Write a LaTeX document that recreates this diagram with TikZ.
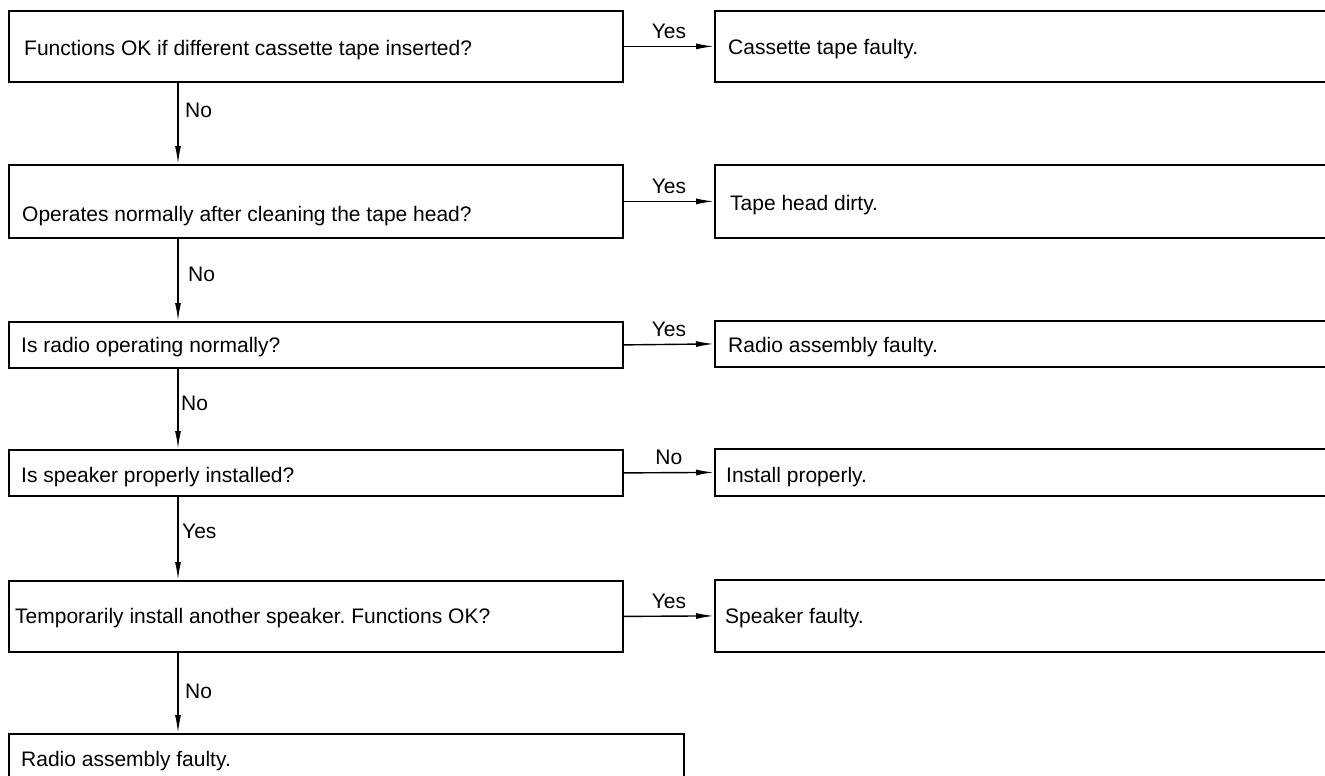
\documentclass[tikz,border=0pt]{standalone}
\usepackage{fontspec}
\setmainfont{Liberation Sans}
\usetikzlibrary{arrows.meta,calc}
\frenchspacing
\begin{document}
\begin{tikzpicture}[x=1pt,y=-1pt,
  box/.style={draw,line width=1.8pt,inner sep=0pt,anchor=north west},
  txt/.style={anchor=base west,inner sep=0pt,font=\fontsize{21}{25}\selectfont},
  lab/.style={anchor=base,inner sep=0pt,font=\fontsize{21}{25}\selectfont},
  vlab/.style={anchor=base west,inner sep=0pt,font=\fontsize{21}{25}\selectfont},
  arr/.style={line width=1.4pt,-{Latex[length=18pt,width=6pt]}}]
\useasboundingbox (0,0) rectangle (1325,776);
\clip (0,0) rectangle (1325,776);
% boxes
\node[box,minimum width=614pt,minimum height=71pt] (b1) at (8,10) {};
\node[box,minimum width=650pt,minimum height=71pt] (r1) at (714,10) {};
\node[box,minimum width=614pt,minimum height=73pt] (b2) at (8,164) {};
\node[box,minimum width=650pt,minimum height=73pt] (r2) at (714,164) {};
\node[box,minimum width=614pt,minimum height=46pt] (b3) at (8,321) {};
\node[box,minimum width=650pt,minimum height=46pt] (r3) at (714,320) {};
\node[box,minimum width=614pt,minimum height=46pt] (b4) at (8,449) {};
\node[box,minimum width=650pt,minimum height=47pt] (r4) at (714,448) {};
\node[box,minimum width=614pt,minimum height=71pt] (b5) at (8,580) {};
\node[box,minimum width=650pt,minimum height=72pt] (r5) at (714,579) {};
\node[box,minimum width=675pt,minimum height=70pt] (b6) at (8,733) {};
% texts
\node[txt] (t1) at (24,56) {Functions OK if different cassette tape inserted?};
\node[txt] (s1) at (728,55) {Cassette tape faulty.};
\node[txt] (t2) at (22,221) {Operates normally after cleaning the tape head?};
\node[txt] (s2) at (730,210) {Tape head dirty.};
\node[txt] (t3) at (21,352) {Is radio operating normally?};
\node[txt] (s3) at (728,352) {Radio assembly faulty.};
\node[txt] (t4) at (21,482) {Is speaker properly installed?};
\node[txt] (s4) at (726,482) {Install properly.};
\node[txt] (t5) at (15,623) {Temporarily install another speaker. Functions OK?};
\node[txt] (s5) at (725,623) {Speaker faulty.};
\node[txt] (t6) at (21,766) {Radio assembly faulty.};
% horizontal connectors
\draw[arr] (b1.east) -- node[lab,above=7pt] (y1) {Yes} (r1.west);
\draw[arr] (b2.east) -- node[lab,above=7pt] (y2) {Yes} (r2.west);
\draw[arr] (b3.east) -- node[lab,above=7pt] (y3) {Yes} (r3.west);
\draw[arr] (b4.east) -- node[lab,above=7pt] (y4) {No} (r4.west);
\draw[arr] (b5.east) -- node[lab,above=7pt] (y5) {Yes} (r5.west);
% vertical connectors
\coordinate (vx) at (178,0);
\draw[arr] (b1.south -| vx) -- (b2.north -| vx);
\draw[arr] (b2.south -| vx) -- (b3.north -| vx);
\draw[arr] (b3.south -| vx) -- (b4.north -| vx);
\draw[arr] (b4.south -| vx) -- (b5.north -| vx);
\draw[arr] (b5.south -| vx) -- (b6.north -| vx);
\node[vlab] (n1) at (185,117) {No};
\node[vlab] (n2) at (188,281) {No};
\node[vlab] (n3) at (181,410) {No};
\node[vlab] (n4) at (182,538) {Yes};
\node[vlab] (n5) at (185,698) {No};
\end{tikzpicture}
\end{document}
